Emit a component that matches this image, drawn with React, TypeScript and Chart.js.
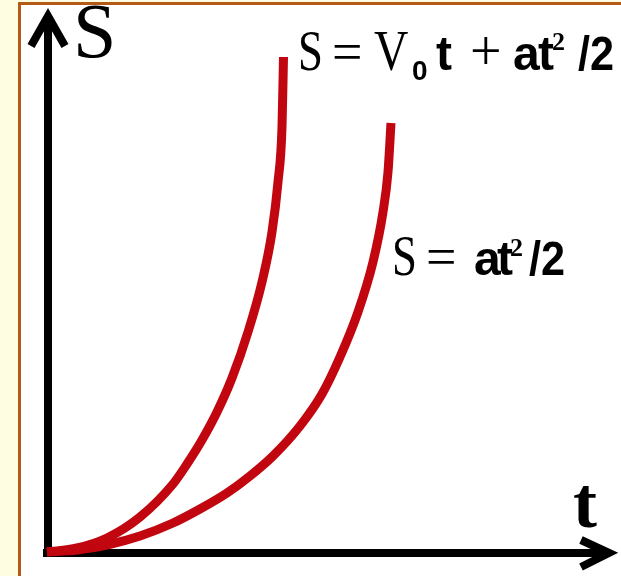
import React, { useEffect, useRef } from "react";
import { Chart, registerables } from "chart.js";

Chart.register(...registerables);

// Path travelled: with an initial speed (steeper curve) and from rest (flatter curve).
const tWithV0 = [0, 0.3, 0.6, 0.93, 1.26, 1.4, 1.55, 1.7, 1.85, 2.01, 2.15, 2.25, 2.31, 2.35, 2.365];
const sWithV0 = [0, 0.04, 0.14, 0.35, 0.68, 0.88, 1.12, 1.4, 1.74, 2.2, 2.7, 3.2, 3.7, 4.25, 4.95];

const tFromRest = [0, 0.3, 0.6, 0.93, 1.26, 1.53, 1.8, 2.03, 2.26, 2.53, 2.75, 2.93, 3.11, 3.26, 3.36, 3.41, 3.44];
const sFromRest = [0, 0.02, 0.07, 0.16, 0.29, 0.43, 0.59, 0.76, 0.96, 1.26, 1.58, 1.95, 2.4, 2.9, 3.4, 3.8, 4.29];

const T_MAX = 5.7;
const S_MAX = 5.44;

const CURVE_COLOR = "#c1060f";
const AXIS_COLOR = "#000000";
const SERIF = "'Liberation Serif', 'Times New Roman', serif";
const SANS = "'Liberation Sans', Arial, sans-serif";

const toPoints = (t: number[], s: number[]) => t.map((v, i) => ({ x: v, y: s[i] }));

// [text, font, left x, baseline y, horizontal squeeze]
type Piece = [string, string, number, number, number];

// Formula labels, drawn piece by piece (serif letters, bold sans variables).
const formulaWithV0: Piece[] = [
  ["S", `56px ${SERIF}`, 298, 70, 0.8],
  ["=", `54px ${SERIF}`, 332, 70, 1],
  ["V", `56px ${SERIF}`, 374, 70, 0.85],
  ["0", `bold 28px ${SANS}`, 412, 80, 1],
  ["t", `bold 48px ${SANS}`, 436, 70, 1],
  ["+", `56px ${SERIF}`, 470, 70, 1],
  ["a", `bold 48px ${SANS}`, 513, 70, 1],
  ["t", `bold 48px ${SANS}`, 538, 70, 1],
  ["2", `bold 26px ${SERIF}`, 552, 50, 1],
  ["/2", `bold 48px ${SANS}`, 578, 70, 0.9],
];

const formulaFromRest: Piece[] = [
  ["S", `56px ${SERIF}`, 392, 275, 0.8],
  ["=", `54px ${SERIF}`, 426, 275, 1],
  ["a", `bold 48px ${SANS}`, 474, 275, 1],
  ["t", `bold 48px ${SANS}`, 497, 275, 1],
  ["2", `bold 26px ${SERIF}`, 510, 256, 1],
  ["/2", `bold 48px ${SANS}`, 529, 275, 0.9],
];

const framePlugin = {
  id: "frame",
  beforeDraw(chart: any) {
    const { ctx, width, height } = chart;
    ctx.save();
    ctx.fillStyle = "#fffde1";
    ctx.fillRect(0, 0, width, height);
    ctx.fillStyle = "#ffffff";
    ctx.fillRect(21, 5, width - 21, height - 5);
    ctx.fillStyle = "#b35a14";
    ctx.fillRect(18, 2, 3, height - 2);
    ctx.fillRect(18, 2, width - 18, 3);
    ctx.restore();
  },
};

const axesPlugin = {
  id: "arrowAxes",
  beforeDatasetsDraw(chart: any) {
    const { ctx, chartArea, scales } = chart;
    const x0 = scales.x.getPixelForValue(0);
    const y0 = scales.y.getPixelForValue(0);
    ctx.save();
    ctx.strokeStyle = AXIS_COLOR;
    ctx.lineWidth = 8;
    ctx.lineCap = "butt";
    ctx.lineJoin = "miter";
    ctx.miterLimit = 10;

    // vertical axis S
    const tipY = chartArea.top + 8;
    ctx.beginPath();
    ctx.moveTo(x0 + 1, y0 + 5);
    ctx.lineTo(x0 + 1, tipY);
    ctx.stroke();
    ctx.beginPath();
    ctx.moveTo(x0 - 16, tipY + 30);
    ctx.lineTo(x0 + 1, tipY);
    ctx.lineTo(x0 + 18, tipY + 30);
    ctx.stroke();

    // horizontal axis t
    const tipX = chartArea.right - 8;
    ctx.beginPath();
    ctx.moveTo(x0 - 4, y0 + 1);
    ctx.lineTo(tipX, y0 + 1);
    ctx.stroke();
    ctx.beginPath();
    ctx.moveTo(tipX - 28, y0 - 12);
    ctx.lineTo(tipX, y0 + 1);
    ctx.lineTo(tipX - 28, y0 + 15);
    ctx.stroke();
    ctx.restore();
  },
  afterDraw(chart: any) {
    const { ctx } = chart;
    ctx.save();
    ctx.fillStyle = "#000000";
    ctx.textAlign = "left";
    ctx.textBaseline = "alphabetic";

    ctx.font = `78px ${SERIF}`;
    ctx.fillText("S", 73, 57);
    ctx.font = `bold 72px ${SERIF}`;
    ctx.fillText("t", 573, 527);

    for (const [text, font, x, y, sx] of [...formulaWithV0, ...formulaFromRest]) {
      ctx.save();
      ctx.font = font;
      ctx.translate(x, y);
      ctx.scale(sx, 1);
      ctx.fillText(text, 0, 0);
      ctx.restore();
    }
    ctx.restore();
  },
};

export default function App() {
  const canvasRef = useRef<HTMLCanvasElement | null>(null);

  useEffect(() => {
    if (!canvasRef.current) return;
    const lineStyle = {
      showLine: true,
      borderColor: CURVE_COLOR,
      backgroundColor: CURVE_COLOR,
      borderWidth: 9,
      pointRadius: 0,
      cubicInterpolationMode: "monotone" as const,
      borderCapStyle: "butt" as const,
      borderJoinStyle: "round" as const,
      clip: false as any,
    };
    const chart = new Chart(canvasRef.current, {
      type: "scatter",
      data: {
        datasets: [
          { label: "S = V0 t + at²/2", data: toPoints(tWithV0, sWithV0), ...lineStyle },
          { label: "S = at²/2", data: toPoints(tFromRest, sFromRest), ...lineStyle },
        ],
      },
      options: {
        animation: false,
        responsive: false,
        devicePixelRatio: 1,
        layout: { padding: { left: 47, right: 4, top: 8, bottom: 24 } },
        scales: {
          x: { type: "linear", min: 0, max: T_MAX, display: false },
          y: { type: "linear", min: 0, max: S_MAX, display: false },
        },
        plugins: {
          legend: { display: false },
          tooltip: { enabled: false },
        },
      },
      plugins: [framePlugin, axesPlugin],
    });
    return () => chart.destroy();
  }, []);

  return (
    <div style={{ position: "fixed", left: 0, top: 0, width: 621, height: 576 }}>
      <canvas ref={canvasRef} width={621} height={576} style={{ display: "block" }} />
    </div>
  );
}
